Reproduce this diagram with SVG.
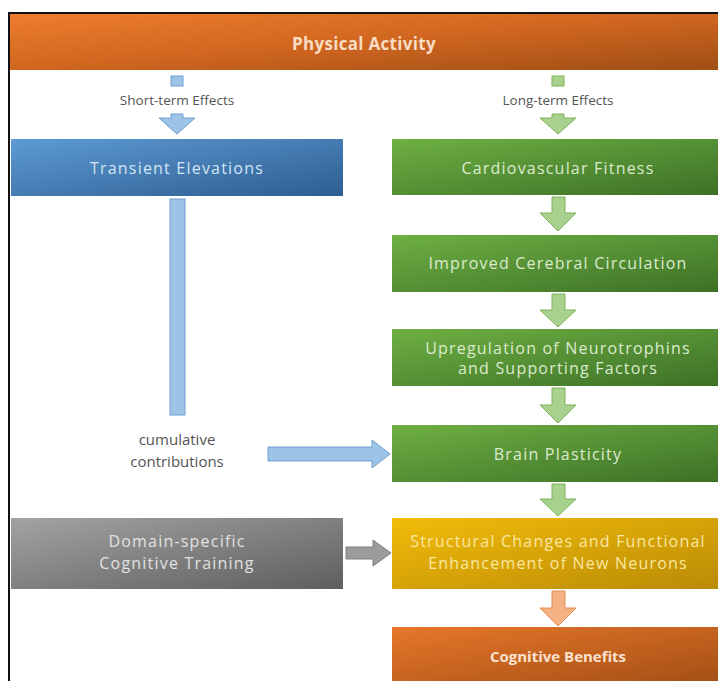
<svg xmlns="http://www.w3.org/2000/svg" width="718" height="681" viewBox="0 0 718 681">
<defs>
<linearGradient id="gOrange" x1="0" y1="0" x2="1" y2="1">
<stop offset="0" stop-color="#EE7D2E"/><stop offset="0.5" stop-color="#D0661F"/><stop offset="1" stop-color="#9E4E16"/>
</linearGradient>
<linearGradient id="gBlue" x1="0" y1="0" x2="1" y2="1">
<stop offset="0" stop-color="#5D9AD3"/><stop offset="1" stop-color="#2D5E92"/>
</linearGradient>
<linearGradient id="gGreen" x1="0" y1="0" x2="1" y2="1">
<stop offset="0" stop-color="#6EB043"/><stop offset="1" stop-color="#3C7026"/>
</linearGradient>
<linearGradient id="gYellow" x1="0" y1="0" x2="1" y2="1">
<stop offset="0" stop-color="#F2BC0A"/><stop offset="1" stop-color="#B98A05"/>
</linearGradient>
<linearGradient id="gGray" x1="0" y1="0" x2="1" y2="1">
<stop offset="0" stop-color="#A3A3A3"/><stop offset="1" stop-color="#5E5E5E"/>
</linearGradient>
<linearGradient id="gOrange2" x1="0" y1="0" x2="1" y2="1">
<stop offset="0" stop-color="#E7772A"/><stop offset="1" stop-color="#A24E14"/>
</linearGradient>
</defs>
<style>
text{font-family:"Open Sans","Liberation Sans",sans-serif;text-anchor:middle;dominant-baseline:central}
.lbl{font-size:16px;letter-spacing:1.2px}
.bold{font-weight:bold;letter-spacing:0.3px}
.pa{font-size:17px}
.cb{font-size:15px;letter-spacing:0}
.small{font-size:13.5px;fill:#555555}
.mid{font-size:15px;fill:#555555}
.ab{fill:#9DC3E6;stroke:#6E9FCF;stroke-width:1}
.ag{fill:#A9D18E;stroke:#7DB356;stroke-width:1}
.agr{fill:#9B9B9B;stroke:#808080;stroke-width:1}
.ao{fill:#F4B183;stroke:#E48D4F;stroke-width:1}
</style>
<rect width="718" height="681" fill="#ffffff"/>
<path d="M9,681 V13 H718" fill="none" stroke="#111111" stroke-width="2"/>

<g id="physical-activity">
<rect x="10" y="14" width="708" height="56" fill="url(#gOrange)"/>
<text x="364" y="43" class="lbl bold pa" fill="#F8DCC4">Physical Activity</text>
</g>

<g id="transient-elevations">
<rect x="11" y="139" width="332" height="57" fill="url(#gBlue)"/>
<text x="177" y="168" class="lbl" fill="#D4E4F4">Transient Elevations</text>
</g>

<g id="cardiovascular-fitness">
<rect x="392" y="139" width="332" height="56" fill="url(#gGreen)"/>
<text x="558" y="168" class="lbl" fill="#DCEBCF">Cardiovascular Fitness</text>
</g>

<g id="improved-cerebral-circulation">
<rect x="392" y="235" width="332" height="57" fill="url(#gGreen)"/>
<text x="558" y="263" class="lbl" fill="#DCEBCF">Improved Cerebral Circulation</text>
</g>

<g id="upregulation">
<rect x="392" y="329" width="332" height="57" fill="url(#gGreen)"/>
<text x="558" y="348" class="lbl" fill="#DCEBCF">Upregulation of Neurotrophins</text>
<text x="558" y="368" class="lbl" fill="#DCEBCF">and Supporting Factors</text>
</g>

<g id="brain-plasticity">
<rect x="392" y="425" width="332" height="57" fill="url(#gGreen)"/>
<text x="558" y="454" class="lbl" fill="#DCEBCF">Brain Plasticity</text>
</g>

<g id="structural-changes">
<rect x="392" y="518" width="332" height="71" fill="url(#gYellow)"/>
<text x="558" y="541" class="lbl" fill="#FBE7A0">Structural Changes and Functional</text>
<text x="558" y="563" class="lbl" fill="#FBE7A0">Enhancement of New Neurons</text>
</g>

<g id="domain-specific-training">
<rect x="11" y="518" width="332" height="71" fill="url(#gGray)"/>
<text x="177" y="541" class="lbl" fill="#E2E2E2">Domain-specific</text>
<text x="177" y="563" class="lbl" fill="#E2E2E2">Cognitive Training</text>
</g>

<g id="cognitive-benefits">
<rect x="392" y="627" width="332" height="58" fill="url(#gOrange2)"/>
<text x="558" y="656" class="lbl bold cb" fill="#FBE1CD">Cognitive Benefits</text>
</g>

<g id="connectors">
<rect x="171" y="76" width="12" height="10" class="ab"/>
<text x="177" y="100" class="small">Short-term Effects</text>
<polygon points="171,114 183,114 183,118 195,118 177,134 159,118 171,118" class="ab"/>

<rect x="552" y="76" width="12" height="10" class="ag"/>
<text x="558" y="100" class="small">Long-term Effects</text>
<polygon points="552,114 564,114 564,118 576,118 558,134 540,118 552,118" class="ag"/>

<rect x="170" y="199" width="15" height="216" class="ab"/>
<text x="177" y="439" class="mid">cumulative</text>
<text x="177" y="461" class="mid">contributions</text>
<polygon points="268,447 372,447 372,440 390,454 372,468 372,461 268,461" class="ab"/>

<polygon points="552,197 565,197 565,213 576,213 558,231 540,213 552,213" class="ag"/>
<polygon points="552,294 565,294 565,310 576,310 558,327 540,310 552,310" class="ag"/>
<polygon points="552,388 565,388 565,405 576,405 558,423 540,405 552,405" class="ag"/>
<polygon points="552,484 565,484 565,499 576,499 558,516 540,499 552,499" class="ag"/>

<polygon points="346,547 373,547 373,540 391,553 373,566 373,559 346,559" class="agr"/>

<polygon points="552,591 565,591 565,608 576,608 558,626 540,608 552,608" class="ao"/>
</g>
</svg>
